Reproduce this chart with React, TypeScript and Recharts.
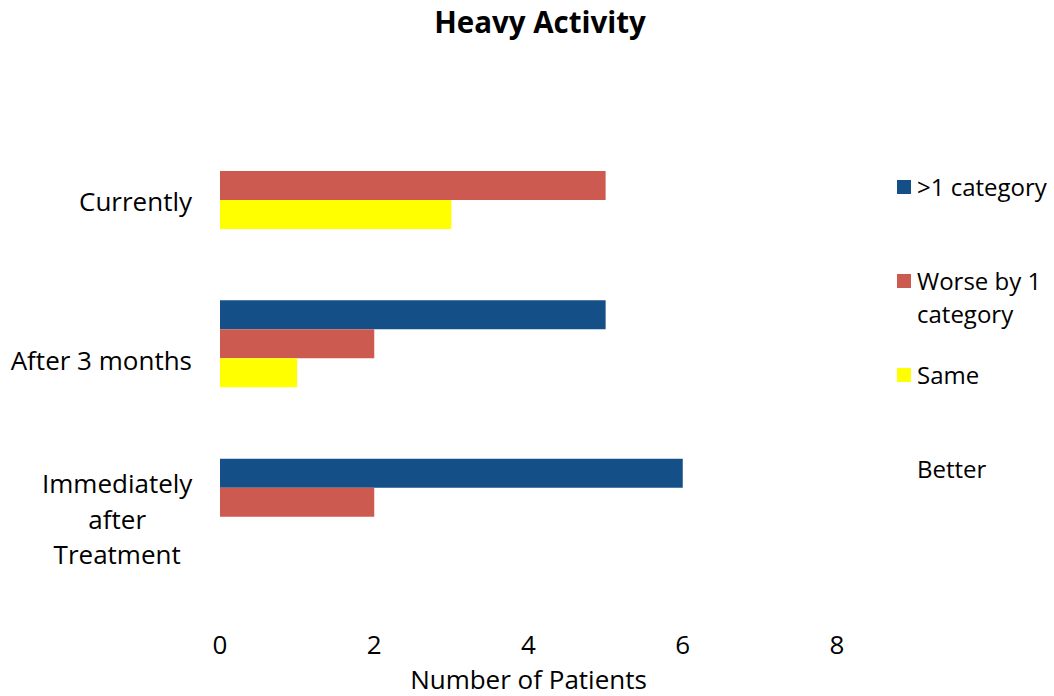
import { BarChart, Bar, XAxis, YAxis, Legend, Label } from "recharts";

const categories = ["Currently", "After 3 months", "Immediately after Treatment"];
const seriesNames = [">1 category", "Worse by 1 category", "Same", "Better"];
const moreThanOne = [0, 5, 6];
const worseByOne = [5, 2, 2];
const same = [3, 1, 0];
const better = [0, 0, 0];
const xTicks = [0, 2, 4, 6, 8];

const colors = ["#154F87", "#CD5A50", "#FFFF00", "#FFFFFF"];
const keys = ["moreThanOne", "worseByOne", "same", "better"];

const data = categories.map((category, i) => ({
  category,
  moreThanOne: moreThanOne[i],
  worseByOne: worseByOne[i],
  same: same[i],
  better: better[i],
}));

const FONT = "'Open Sans', Lato, sans-serif";
const FS = 26;

// wrap long category names the way the spreadsheet does
const wrapLabel = (text: string, maxChars = 14) => {
  const lines: string[] = [];
  let line = "";
  text.split(" ").forEach((word) => {
    const next = line ? `${line} ${word}` : word;
    if (next.length > maxChars && line) {
      lines.push(line);
      line = word;
    } else {
      line = next;
    }
  });
  if (line) lines.push(line);
  return lines;
};

const CategoryTick = (props: any) => {
  const { x, y, payload } = props;
  const lines = wrapLabel(String(payload.value));
  const lineHeight = 35.5;
  if (lines.length === 1) {
    return (
      <text x={x} y={y} dy="0.43em" textAnchor="end" fontSize={FS} fontFamily={FONT} fill="#000">
        {lines[0]}
      </text>
    );
  }
  const longest = Math.max(...lines.map((l) => l.length));
  const cx = x - (longest * 13.6) / 2;
  const startY = y - ((lines.length - 1) * lineHeight) / 2;
  return (
    <text textAnchor="middle" fontSize={FS} fontFamily={FONT} fill="#000">
      {lines.map((l, i) => (
        <tspan key={i} x={cx} y={startY + i * lineHeight} dy="0.46em">
          {l}
        </tspan>
      ))}
    </text>
  );
};

const renderLegend = (props: any) => {
  // keep the series order rather than the alphabetical one
  const payload = [...props.payload].sort(
    (a: any, b: any) => seriesNames.indexOf(a.value) - seriesNames.indexOf(b.value)
  );
  return (
    <div style={{ fontFamily: FONT, fontSize: 24, color: "#000" }}>
      {payload.map((entry: any, i: number) => (
        <div key={i} style={{ display: "flex", alignItems: "flex-start", height: 94 }}>
          <div
            style={{
              width: 14,
              height: 14,
              marginTop: 10,
              marginRight: 6,
              flexShrink: 0,
              backgroundColor: entry.color,
            }}
          />
          <div style={{ lineHeight: "33px", width: 136 }}>{entry.value}</div>
        </div>
      ))}
    </div>
  );
};

export default function App() {
  return (
    <div style={{ position: "absolute", left: 0, top: 0, width: 1054, height: 696, background: "#fff" }}>
      <div
        style={{
          position: "absolute",
          left: 0,
          top: 7,
          width: 1080,
          textAlign: "center",
          fontFamily: FONT,
          fontWeight: 700,
          fontSize: 29.5,
          lineHeight: "30px",
          color: "#000",
        }}
      >
        Heavy Activity
      </div>
      <BarChart
        width={1054}
        height={696}
        data={data}
        layout="vertical"
        margin={{ top: 121, right: 217, bottom: 0, left: 20 }}
        barGap={0}
        barSize={29}
      >
        <XAxis
          type="number"
          domain={[0, 8]}
          ticks={xTicks}
          axisLine={false}
          tickLine={false}
          tickSize={0}
          tickMargin={40}
          height={100}
          tick={{ fontSize: FS, fontFamily: FONT, fill: "#000" }}
        >
          <Label
            value="Number of Patients"
            position="insideBottom"
            offset={7}
            style={{ fontSize: FS, fontFamily: FONT, fill: "#000" }}
          />
        </XAxis>
        <YAxis
          type="category"
          dataKey="category"
          width={200}
          axisLine={false}
          tickLine={false}
          tickSize={0}
          tickMargin={28}
          interval={0}
          tick={<CategoryTick />}
        />
        <Legend
          layout="horizontal"
          verticalAlign="middle"
          align="center"
          width={160}
          content={renderLegend}
          wrapperStyle={{ left: 897, top: 170, width: 160 }}
        />
        {keys.map((k, i) => (
          <Bar key={k} dataKey={k} name={seriesNames[i]} fill={colors[i]} isAnimationActive={false} />
        ))}
      </BarChart>
    </div>
  );
}
